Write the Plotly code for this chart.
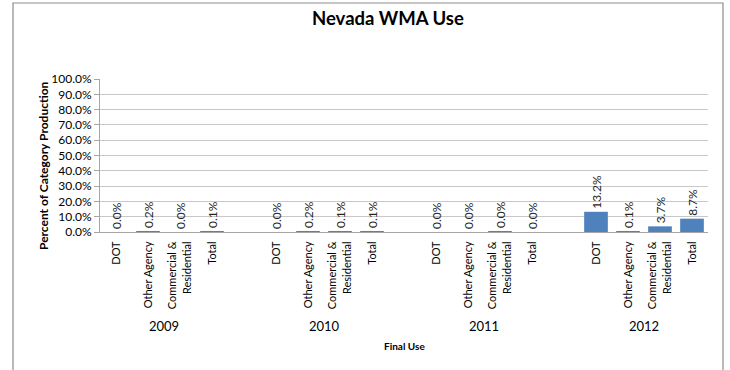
import plotly.graph_objects as go

years = ["2009", "2010", "2011", "2012"]
uses = ["DOT", "Other Agency", "Commercial &<br>Residential", "Total"]
values_2009 = [0.0, 0.2, 0.0, 0.1]
values_2010 = [0.0, 0.2, 0.1, 0.1]
values_2011 = [0.0, 0.0, 0.04, 0.0]
values_2012 = [13.2, 0.1, 3.7, 8.7]
series = [values_2009, values_2010, values_2011, values_2012]

xs, ys, labels, tickvals, ticktext, centers = [], [], [], [], [], []
for g, vals in enumerate(series):
    base = g * 5
    for i, v in enumerate(vals):
        xs.append(base + i)
        ys.append(v / 100)
        labels.append(f"{v:.1f}%")
        tickvals.append(base + i)
        ticktext.append(uses[i])
    centers.append(base + 1.5)

font = "Lato"
fig = go.Figure(go.Bar(
    x=xs, y=ys, text=labels, textposition="outside", textangle=-90,
    textfont=dict(family=font, size=12, color="#262626"),
    marker=dict(color="#4F81BD", line=dict(width=0)), width=0.74,
    cliponaxis=False, constraintext="none", hoverinfo="skip",
))

W, H = 730, 370
L, R, T, B = 100, 22, 79, 138
pw, ph = W - L - R, H - T - B

def px_x(p):
    return (p - L) / pw

def px_y(p):
    return (H - B - p) / ph

annotations = [dict(x=c, y=px_y(326), xref="x", yref="paper", text=yr, showarrow=False,
                    xanchor="center", yanchor="middle",
                    font=dict(family=font, size=13, color="#000000"))
               for c, yr in zip(centers, years)]
annotations.append(dict(x=0.5, y=px_y(346), xref="paper", yref="paper", text="<b>Final Use</b>",
                        xanchor="center", yanchor="middle",
                        showarrow=False, font=dict(family=font, size=10, color="#000000")))
annotations.append(dict(x=px_x(43), y=px_y(166), xref="paper", yref="paper",
                        text="<b>Percent of Category Production</b>", textangle=-90,
                        xanchor="center", yanchor="middle",
                        showarrow=False, font=dict(family=font, size=12, color="#000000")))
annotations.append(dict(x=px_x(388), y=px_y(18), xref="paper", yref="paper",
                        text="<b>Nevada WMA Use</b>", showarrow=False,
                        xanchor="center", yanchor="middle",
                        font=dict(family=font, size=18.5, color="#000000")))

fig.update_layout(
    width=W, height=H, margin=dict(l=L, r=R, t=T, b=B, pad=0),
    paper_bgcolor="white", plot_bgcolor="white", showlegend=False,
    annotations=annotations,
    shapes=[dict(type="rect", xref="paper", yref="paper", x0=px_x(13), x1=px_x(723),
                 y0=px_y(3), y1=px_y(420), line=dict(color="#8C8C8C", width=1.2),
                 fillcolor="rgba(0,0,0,0)", layer="below")],
    xaxis=dict(range=[-0.5, 18.5], tickvals=tickvals, ticktext=ticktext, tickangle=-90,
               tickfont=dict(family=font, size=11, color="#000000"), showgrid=False,
               showline=True, linecolor="#A6A6A6", ticks="outside", ticklen=4,
               tickcolor="rgba(0,0,0,0)", zeroline=False, automargin=False, fixedrange=True),
    yaxis=dict(range=[0, 1], dtick=0.1, tickformat=".1%", showgrid=True, gridcolor="#C8C8C8",
               showline=True, linecolor="#A6A6A6", ticks="outside", ticklen=5, tickcolor="#A6A6A6",
               tickfont=dict(family=font, size=12, color="#000000"), zeroline=False,
               automargin=False, fixedrange=True),
    bargap=0.25,
)

fig.write_html("out.html", config={"displayModeBar": False},
               post_script="document.body.style.margin='0';document.body.style.overflow='hidden';")
